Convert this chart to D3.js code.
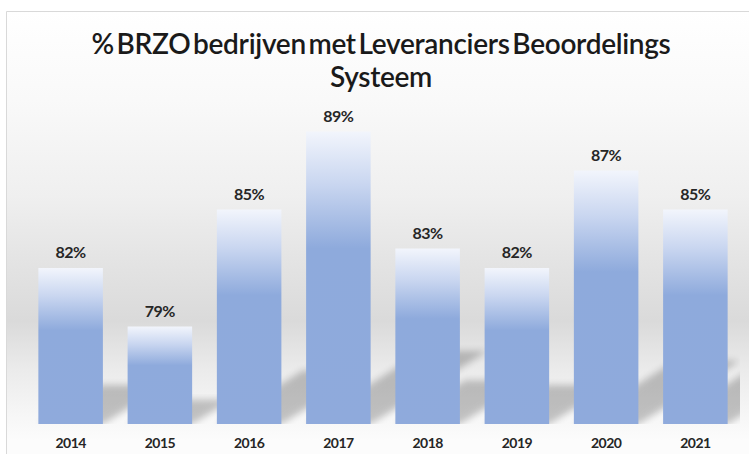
<!DOCTYPE html>
<html lang="nl">
<head>
<meta charset="UTF-8">
<script src="https://d3js.org/d3.v7.min.js"></script>
<title>% BRZO bedrijven met Leveranciers Beoordelings Systeem</title>
<style>
  body { margin: 0; background: #fff; }
</style>
</head>
<body>
<script>
    // Data
    const years = ["2014", "2015", "2016", "2017", "2018", "2019", "2020", "2021"];
    const shares = [0.82, 0.79, 0.85, 0.89, 0.83, 0.82, 0.87, 0.85];
    const titleLines = ["% BRZO bedrijven met Leveranciers Beoordelings", "Systeem"];

    const W = 749, H = 454;
    const plot = { left: 26, right: 740, top: 112, bottom: 424 };

    const svg = d3.select("body").append("svg")
        .attr("width", W)
        .attr("height", H);

    const defs = svg.append("defs");

    // background shading of the chart area
    const bg = defs.append("linearGradient")
        .attr("id", "bgGrad")
        .attr("x1", 0).attr("y1", 0).attr("x2", 0).attr("y2", 1);
    [[0, "#ffffff"], [0.2, "#f9f9f9"], [0.42, "#efefef"], [0.56, "#e4e4e4"],
     [0.7, "#dadada"], [0.81, "#ebebeb"], [0.9, "#f5f5f5"], [0.97, "#fcfcfc"]]
        .forEach(s => bg.append("stop").attr("offset", s[0]).attr("stop-color", s[1]));

    // bar fill: pale at the top, plain blue from about 40% down
    const barGrad = defs.append("linearGradient")
        .attr("id", "barGrad")
        .attr("x1", 0).attr("y1", 0).attr("x2", 0).attr("y2", 1);
    [[0, "#f2f5fc"], [0.18, "#c9d6f0"], [0.4, "#8eaadc"], [1, "#8faadc"]]
        .forEach(s => barGrad.append("stop").attr("offset", s[0]).attr("stop-color", s[1]));

    defs.append("filter")
        .attr("id", "blur")
        .attr("x", "-20%").attr("y", "-20%").attr("width", "140%").attr("height", "140%")
        .append("feGaussianBlur")
        .attr("stdDeviation", 3.5);

    defs.append("clipPath")
        .attr("id", "plotClip")
        .append("rect")
        .attr("x", plot.left).attr("y", 0)
        .attr("width", plot.right - plot.left)
        .attr("height", plot.bottom);

    svg.append("rect")
        .attr("x", 7).attr("y", 11)
        .attr("width", W - 7).attr("height", H - 11)
        .attr("fill", "url(#bgGrad)");

    // chart border (only top and left are inside the picture)
    svg.append("path")
        .attr("d", `M6.5,${H} V11.5 H${W}`)
        .attr("fill", "none")
        .attr("stroke", "#d9d9d9")
        .attr("stroke-width", 1);

    const x = d3.scaleBand()
        .domain(years)
        .range([plot.left, plot.right])
        .paddingInner(0.277)
        .paddingOuter(0.1385);

    const y = d3.scaleLinear()
        .domain([0.74, 0.90])
        .range([plot.bottom, plot.top]);

    const data = years.map((yr, i) => ({ year: yr, value: shares[i] }));

    // perspective shadows falling to the upper right
    svg.append("g")
        .attr("clip-path", "url(#plotClip)")
        .selectAll("path")
        .data(data)
        .join("path")
        .attr("d", d => {
            const x0 = x(d.year), x1 = x0 + x.bandwidth();
            const b = y(y.domain()[0]);
            const h = b - y(d.value);
            const dx = 0.4 * h, dy = 0.25 * h;
            return `M${x0},${b} L${x1},${b} L${x1 + dx},${b - dy} L${x0 + dx},${b - dy} Z`;
        })
        .attr("fill", "#000")
        .attr("opacity", 0.22)
        .attr("filter", "url(#blur)");

    svg.append("g")
        .selectAll("rect")
        .data(data)
        .join("rect")
        .attr("x", d => x(d.year))
        .attr("y", d => y(d.value))
        .attr("width", x.bandwidth())
        .attr("height", d => y(y.domain()[0]) - y(d.value))
        .attr("fill", "url(#barGrad)");

    // value labels
    svg.append("g")
        .selectAll("text")
        .data(data)
        .join("text")
        .attr("x", d => x(d.year) + x.bandwidth() / 2)
        .attr("y", d => y(d.value) - 10)
        .attr("text-anchor", "middle")
        .attr("font-family", "Lato, sans-serif")
        .attr("font-weight", "bold")
        .attr("font-size", 16)
        .attr("letter-spacing", -0.5)
        .attr("fill", "#262626")
        .text(d => d3.format(".0%")(d.value));

    // category axis
    const xAxis = svg.append("g")
        .attr("transform", `translate(0,${plot.bottom})`)
        .call(d3.axisBottom(x).tickSize(0).tickPadding(14));
    xAxis.select(".domain").remove();
    xAxis.selectAll("text")
        .attr("font-family", "Lato, sans-serif")
        .attr("font-weight", "bold")
        .attr("font-size", 14)
        .attr("letter-spacing", -0.5)
        .attr("fill", "#262626");

    // title
    svg.append("text")
        .attr("x", 381)
        .attr("y", 54)
        .attr("text-anchor", "middle")
        .attr("font-family", "Lato, sans-serif")
        .attr("font-weight", 600)
        .attr("font-size", 28)
        .attr("letter-spacing", -0.3)
        .attr("word-spacing", -4)
        .attr("fill", "#1a1a1a")
        .selectAll("tspan")
        .data(titleLines)
        .join("tspan")
        .attr("x", 381)
        .attr("dy", (d, i) => i === 0 ? 0 : 33)
        .text(d => d);
</script>
</body>
</html>
